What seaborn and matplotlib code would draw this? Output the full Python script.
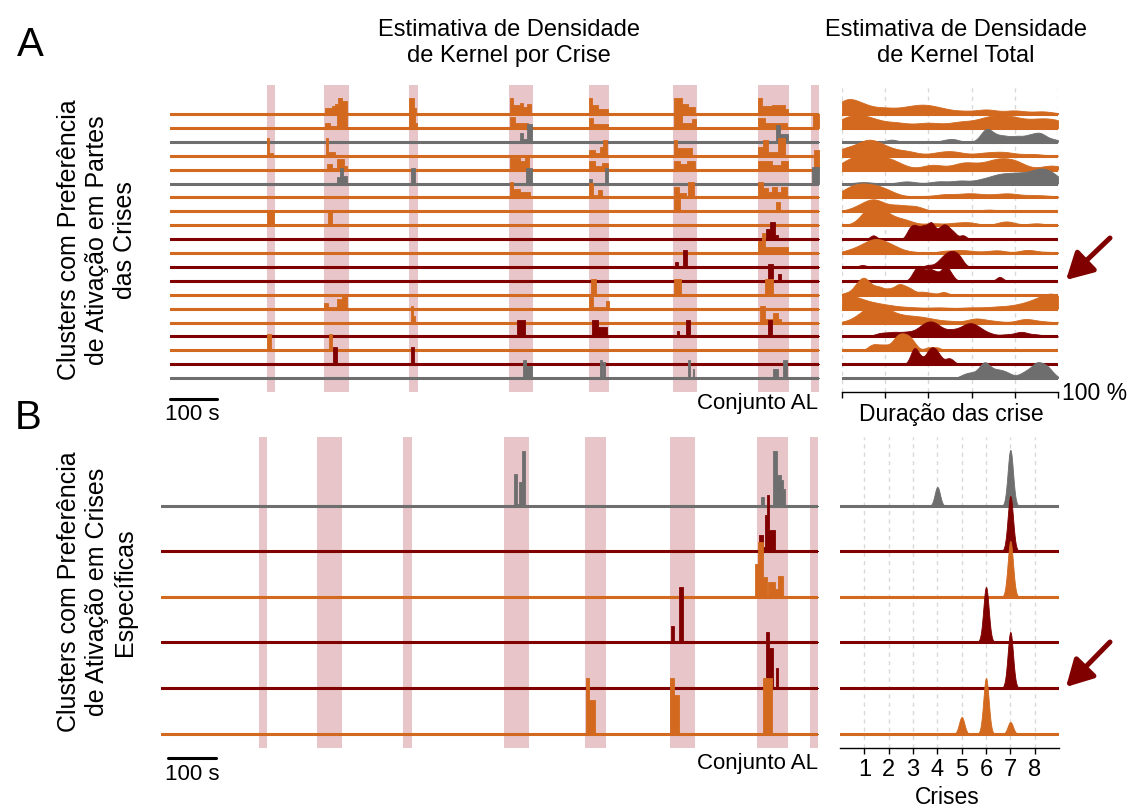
import numpy as np
import seaborn as sns
import matplotlib.pyplot as plt

W, H = 1132, 807

palette = {"o": "#d2691e", "r": "#800000", "g": "#6e6e6e"}
band_color = "#e7c5c8"

# seizure windows (s) shared by both panels
seizure_bands = [(206, 223), (328, 381), (509, 528), (721, 772),
                 (891, 934), (1070, 1121), (1251, 1317), (1364, 1380)]
seizure_ids = [1, 2, 3, 4, 5, 6, 7, 8]
pct_ticks = [0, 20, 40, 60, 80, 100]

a_row_colors = ["o", "o", "g", "o", "o", "g", "o", "o", "o", "r",
                "o", "r", "r", "o", "o", "o", "r", "o", "r", "g"]
b_row_colors = ["g", "r", "o", "r", "r", "o"]

# panel A, per-seizure activity: (start s, end s, height)
a_blocks = [
    [(330, 344, 6), (344, 351, 8), (351, 357, 10), (357, 366, 16), (366, 376, 13), (508, 519, 16), (519, 524, 6),
     (723, 730, 16), (730, 744, 9), (744, 751, 11), (751, 759, 7), (759, 768, 10), (891, 897, 16), (897, 910, 9),
     (910, 931, 5), (1072, 1088, 16), (1088, 1102, 10), (1102, 1116, 7), (1250, 1259, 16), (1259, 1280, 8),
     (1280, 1307, 9), (1307, 1314, 5)],
    [(330, 341, 5), (341, 355, 2), (355, 376, 15), (508, 522, 14), (522, 526, 5), (723, 733, 11), (733, 762, 5),
     (891, 900, 10), (900, 931, 4), (1072, 1088, 13), (1088, 1109, 5), (1109, 1119, 9), (1250, 1265, 10),
     (1265, 1312, 5), (1368, 1380, 13)],
    [(744, 751, 9), (751, 759, 3), (759, 770, 18), (1288, 1297, 17), (1297, 1314, 8)],
    [(206, 211, 18), (211, 220, 3), (331, 337, 18), (337, 350, 4), (891, 904, 6), (904, 914, 3), (914, 921, 9),
     (921, 930, 16), (1072, 1079, 16), (1079, 1109, 8), (1250, 1261, 9), (1261, 1271, 16), (1271, 1293, 4),
     (1293, 1308, 18), (1370, 1380, 6)],
    [(333, 345, 6), (345, 355, 2), (355, 370, 11), (370, 376, 4), (723, 745, 12), (745, 755, 9), (755, 764, 15),
     (891, 904, 9), (904, 918, 4), (918, 931, 7), (1072, 1085, 9), (1085, 1100, 6), (1100, 1116, 9),
     (1250, 1280, 9), (1280, 1300, 5), (1300, 1314, 9), (1370, 1380, 15)],
    [(355, 362, 7), (362, 368, 16), (368, 376, 8), (513, 520, 16), (758, 770, 16), (892, 897, 5), (924, 932, 16),
     (1366, 1380, 17)],
    [(723, 730, 15), (730, 744, 8), (744, 765, 5), (891, 900, 14), (900, 910, 2), (910, 918, 7), (1072, 1082, 10),
     (1082, 1098, 4), (1102, 1115, 15), (1250, 1261, 15), (1261, 1271, 9), (1271, 1280, 5), (1280, 1290, 10),
     (1290, 1300, 5), (1300, 1311, 10)],
    [(1072, 1085, 12), (1288, 1298, 9)],
    [(207, 222, 14), (335, 345, 14)],
    [(1268, 1276, 10), (1276, 1287, 17), (1287, 1292, 4)],
    [(1250, 1258, 12), (1258, 1265, 20), (1265, 1314, 6)],
    [(1073, 1080, 5), (1090, 1100, 17)],
    [(1271, 1283, 17), (1293, 1300, 7)],
    [(895, 905, 16), (1072, 1086, 16), (1265, 1283, 16)],
    [(328, 336, 6), (336, 355, 2), (355, 366, 10), (366, 376, 15), (891, 900, 12), (900, 928, 2), (928, 933, 8)],
    [(512, 517, 17), (517, 522, 7), (1254, 1265, 17), (1265, 1283, 4), (1283, 1292, 10), (1292, 1300, 4)],
    [(738, 755, 16), (897, 910, 16), (910, 929, 9), (1078, 1083, 5), (1097, 1106, 16), (1272, 1281, 16)],
    [(207, 214, 16), (338, 345, 16)],
    [(346, 355, 17), (512, 518, 17)],
    [(750, 758, 18), (758, 770, 12), (914, 918, 18), (921, 925, 16), (1101, 1106, 18), (1112, 1115, 9),
     (1282, 1293, 9), (1304, 1312, 18)],
]

# panel A, total KDE over seizure duration: (position %, height) and bandwidth (%)
a_kde_peaks = [
    [(2, 15), (10, 8), (20, 6), (30, 6), (38, 8), (46, 5), (56, 3), (67, 5), (80, 4), (93, 3)],
    [(3, 13), (12, 12), (25, 7), (40, 7), (55, 8), (68, 13), (78, 13), (90, 9), (99, 9)],
    [(23, 4), (48, 3), (52, 4), (66, 13), (68, 12), (72, 8), (76, 8), (81, 9), (86, 9), (90, 10), (93, 9), (98, 4)],
    [(2, 8), (12, 16), (20, 8), (30, 5), (45, 3), (52, 4), (66, 3), (75, 4), (88, 2)],
    [(3, 10), (10, 15), (18, 13), (25, 8), (42, 7), (56, 9), (64, 5), (72, 12), (80, 11), (97, 6)],
    [(10, 2), (30, 3), (45, 3), (55, 4), (65, 5), (72, 9), (78, 9), (84, 10), (91, 15), (97, 12)],
    [(3, 10), (9, 14), (16, 12), (22, 6), (36, 2), (48, 5), (59, 6), (68, 3), (77, 6), (88, 3), (96, 2)],
    [(6, 4), (11, 8), (15, 12), (19, 6), (26, 9), (34, 8), (68, 3)],
    [(10, 6), (14, 22), (18, 14), (24, 8), (30, 6), (42, 3), (52, 3), (59, 4), (76, 6), (90, 3)],
    [(14.5, 5), (31, 9), (33, 11), (35, 10), (37.5, 12), (39.5, 8), (41.5, 17), (44, 6), (46, 10), (48, 12),
     (50, 7), (52, 6), (56, 5)],
    [(3, 3), (8, 7), (13, 13), (17, 14), (22, 10), (26, 4), (33, 2), (48, 4), (56, 5), (64, 2), (72, 5),
     (86, 6), (96, 2)],
    [(9.5, 4), (40, 4), (44, 5), (46, 9), (48, 14), (50, 16), (52, 16), (54, 13), (55.5, 6)],
    [(33, 8), (35, 13), (37, 14), (40, 13), (42, 8), (44, 9), (47, 15), (49, 12), (51, 5), (73, 6)],
    [(2, 3), (6, 9), (8, 10), (10, 17), (12, 12), (15, 10), (18, 10), (22, 9), (26, 15), (29, 10), (32, 8),
     (37, 5), (41, 3), (47, 5)],
    [(0, 14), (6, 12), (14, 7), (22, 4), (32, 2), (45, 2), (60, 2), (72, 3), (82, 5), (90, 10), (97, 15), (100, 8)],
    [(6, 5), (11, 14), (15, 18), (19, 16), (24, 11), (30, 9), (36, 8), (42, 5), (50, 3), (62, 8), (70, 3),
     (85, 7), (93, 2)],
    [(18, 5), (24, 6), (30, 6), (36, 9), (40, 15), (44, 13), (50, 8), (55, 8), (59, 14), (63, 10), (68, 4),
     (76, 3), (83, 7), (90, 3)],
    [(13, 6), (15, 7), (17, 5), (19, 6), (21, 6), (24, 12), (26, 17), (28, 17), (30, 16), (32, 14), (34, 6),
     (40, 6), (44, 6)],
    [(32.5, 12), (34, 16), (36, 8), (38, 4), (40, 14), (42, 17), (44, 13), (46, 6), (49, 7), (51, 5)],
    [(56, 4), (59, 6), (62, 6), (65, 14), (67, 14), (70, 9), (73, 9), (76, 7), (79, 3), (83, 5), (86, 9),
     (89, 12), (91, 14), (94, 16), (97, 8)],
]
a_kde_sigma = [5, 6, 2.5, 5, 5, 4, 5, 4, 4, 1.5, 4, 1.8, 1.5, 2, 5, 4, 3, 1.8, 1.5, 2]

# panel B, per-seizure activity: (start s, end s, height)
b_blocks = [
    [(741, 748, 32), (748, 752, 2), (752, 758, 24), (758, 765, 55), (1260, 1266, 9), (1286, 1294, 55),
     (1294, 1302, 31), (1302, 1307, 26), (1307, 1311, 17)],
    [(1257, 1264, 16), (1264, 1268, 4), (1268, 1273, 36), (1273, 1278, 56), (1278, 1289, 21)],
    [(1248, 1255, 33), (1255, 1265, 55), (1265, 1272, 20), (1276, 1290, 15), (1290, 1296, 8), (1296, 1307, 21)],
    [(1071, 1077, 16), (1088, 1097, 55)],
    [(1266, 1270, 8), (1270, 1278, 56), (1278, 1285, 40), (1292, 1297, 20)],
    [(893, 900, 56), (900, 911, 34), (1070, 1077, 56), (1077, 1087, 39), (1265, 1283, 56)],
]

# panel B, total KDE over seizure index (height per seizure 1..8)
b_kde_weights = [
    [0, 0, 0, 19, 0, 0, 56, 0],
    [0, 0, 0, 0, 0, 0, 55, 0],
    [0, 0, 0, 0, 0, 0, 56, 0],
    [0, 0, 0, 0, 0, 55, 0, 0],
    [0, 0, 0, 0, 0, 0, 56, 0],
    [0, 0, 0, 0, 17, 56, 12, 0],
]
b_kde_sigma = 0.11

T_END = 1380
A_BASE = [114 + 13.9 * i for i in range(20)]
B_BASE = [506, 551, 597, 642, 688, 734]

sns.set_style("white")
plt.rcParams["font.family"] = ["Liberation Sans", "DejaVu Sans"]
plt.rcParams["text.color"] = "black"
plt.rcParams["xtick.color"] = "black"
plt.rcParams["xtick.labelcolor"] = "black"

fig = plt.figure(figsize=(W / 100, H / 100), dpi=100)


def px_axes(x0, x1, y_top, y_bot):
    return fig.add_axes([x0 / W, 1 - y_bot / H, (x1 - x0) / W, (y_bot - y_top) / H])


def ftext(x, y, s, **kw):
    fig.text(x / W, 1 - y / H, s, color="black", **kw)


def step_trace(ax, blocks, color):
    edges = sorted({0.0, float(T_END)} | {float(b[0]) for b in blocks} | {float(b[1]) for b in blocks})
    mids = [(a + b) / 2 for a, b, _ in blocks]
    hts = [h for _, _, h in blocks]
    sns.histplot(x=mids, weights=hts, bins=edges, element="step", fill=True,
                 color=color, alpha=1, linewidth=0.6, ax=ax)


def ridge_kde(ax, pos, hts, sigma, color, clip, px_h, px_base):
    pos = np.asarray(pos, float)
    w = np.asarray(hts, float)
    std = np.sqrt(np.cov(pos, aweights=w))
    sns.kdeplot(x=pos, weights=w, bw_method=sigma / std, clip=clip, gridsize=500,
                fill=True, color=color, alpha=1, linewidth=0.6, ax=ax)
    top = max(p.vertices[:, 1].max() for p in ax.collections[-1].get_paths())
    s = top / max(hts)
    ax.set_ylim(-px_base * s, (px_h - px_base) * s)


# ---- background: seizure bands and axes ----
band_a = px_axes(170, 819, 85, 392)
band_b = px_axes(161, 818, 437, 748)
for ax in (band_a, band_b):
    for t0, t1 in seizure_bands:
        ax.axvspan(t0, t1, color=band_color, lw=0)
    ax.set_xlim(0, T_END)
    ax.set_ylim(0, 1)
    ax.set_axis_off()

band_a.plot([0, 100], [-0.024, -0.024], color="black", lw=2.2, clip_on=False,
            transform=band_a.get_xaxis_transform())
band_b.plot([15, 115], [-0.032, -0.032], color="black", lw=2.2, clip_on=False,
            transform=band_b.get_xaxis_transform())

grid_a = px_axes(842, 1058, 85, 392)
grid_a.set_xlim(0, 100)
grid_a.set_ylim(0, 1)
grid_a.set_xticks(pct_ticks)
grid_a.set_xticklabels([])
grid_a.set_yticks([])

grid_b = px_axes(840, 1059, 437, 748)
grid_b.set_xlim(0, 9)
grid_b.set_ylim(0, 1)
grid_b.set_xticks(seizure_ids)
grid_b.set_xticklabels([str(s) for s in seizure_ids], fontsize=17)
grid_b.set_yticks([])

for ax in (grid_a, grid_b):
    ax.grid(axis="x", color="#d9d9d9", lw=1, linestyle=(0, (3, 3)))
    for side in ("top", "right", "left"):
        ax.spines[side].set_visible(False)
    ax.spines["bottom"].set_color("black")
    ax.spines["bottom"].set_linewidth(1)
    ax.tick_params(axis="x", direction="out", length=4, width=1, color="black", pad=4, bottom=True)
    ax.set_facecolor("none")

# ---- panel A rows ----
for i, base in enumerate(A_BASE):
    color = palette[a_row_colors[i]]
    ax = px_axes(170, 819, base - 30, base + 3)
    step_trace(ax, a_blocks[i], color)
    ax.axhline(0, color=color, lw=2.2)
    ax.set_xlim(0, T_END)
    ax.set_ylim(-3, 30)
    ax.set_axis_off()

    ax = px_axes(842, 1058, base - 40, base + 3)
    pos, hts = zip(*a_kde_peaks[i])
    ridge_kde(ax, pos, hts, a_kde_sigma[i], color, (0, 100), 43, 3)
    ax.axhline(0, color=color, lw=2.2)
    ax.set_xlim(0, 100)
    ax.set_axis_off()

# ---- panel B rows ----
for i, base in enumerate(B_BASE):
    color = palette[b_row_colors[i]]
    ax = px_axes(161, 818, base - 62, base + 3)
    step_trace(ax, b_blocks[i], color)
    ax.axhline(0, color=color, lw=2.2)
    ax.set_xlim(0, T_END)
    ax.set_ylim(-3, 62)
    ax.set_axis_off()

    ax = px_axes(840, 1059, base - 62, base + 3)
    w = np.maximum(np.asarray(b_kde_weights[i], float), 0.3)
    ridge_kde(ax, seizure_ids, w, b_kde_sigma, color, None, 65, 3)
    ax.axhline(0, color=color, lw=2.2)
    ax.set_xlim(0, 9)
    ax.set_axis_off()

# ---- text ----
ftext(30, 45, "A", fontsize=29, ha="center", va="center")
ftext(28, 418, "B", fontsize=29, ha="center", va="center")
ftext(509, 43, "Estimativa de Densidade\nde Kernel por Crise", fontsize=17, ha="center", va="center",
      linespacing=1.25)
ftext(956, 43, "Estimativa de Densidade\nde Kernel Total", fontsize=17, ha="center", va="center",
      linespacing=1.25)
ftext(97, 240, "Clusters com Preferência\nde Ativação em Partes\ndas Crises", fontsize=18, rotation=90,
      ha="center", va="center", linespacing=1.2)
ftext(97, 592, "Clusters com Preferência\nde Ativação em Crises\nEspecíficas", fontsize=18, rotation=90,
      ha="center", va="center", linespacing=1.2)
ftext(165, 415, "100 s", fontsize=16, ha="left", va="center")
ftext(165, 775, "100 s", fontsize=16, ha="left", va="center")
ftext(818, 404, "Conjunto AL", fontsize=16, ha="right", va="center")
ftext(818, 764, "Conjunto AL", fontsize=16, ha="right", va="center")
ftext(1062, 394, "100 %", fontsize=16.5, ha="left", va="center")
ftext(951, 414, "Duração das crise", fontsize=16.5, ha="center", va="center")
ftext(947, 797, "Crises", fontsize=16.5, ha="center", va="center")

for tail, tip in (((1110, 238), (1066, 280)), ((1110, 642), (1066, 687))):
    band_a.annotate("", xy=(tip[0], H - tip[1]), xytext=(tail[0], H - tail[1]),
                    xycoords="figure pixels", textcoords="figure pixels", annotation_clip=False,
                    arrowprops=dict(arrowstyle="-|>,head_length=1.0,head_width=0.55", lw=3.6,
                                    color=palette["r"], shrinkA=0, shrinkB=0, mutation_scale=16))

fig.savefig("out.png", dpi=100)
